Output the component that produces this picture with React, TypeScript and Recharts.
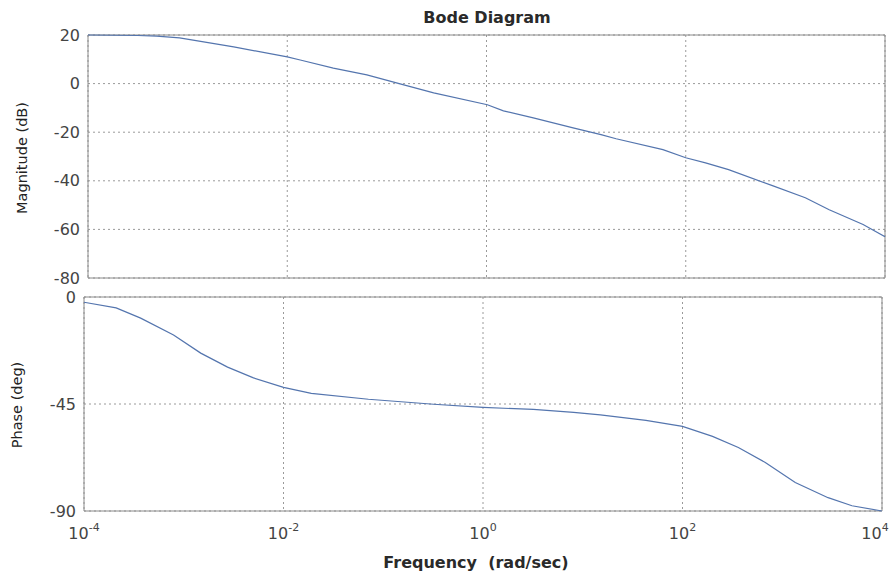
import { LineChart, Line, XAxis, YAxis, CartesianGrid, ReferenceArea } from 'recharts'

// magnitude curve
const magFreq = [
  1e-4, 3.16e-4, 4.9e-4, 8.3e-4, 2.9e-3, 1e-2, 1.35e-2, 2.9e-2, 6.3e-2, 0.148, 0.295, 1.02,
  1.48, 2.95, 7.4, 14.1, 20, 59, 100, 158, 269, 741, 1585, 2754, 6026, 1e4,
]
const magDb = [
  20, 19.8, 19.5, 18.8, 15.1, 11, 9.7, 6.4, 3.6, -0.5, -3.8, -8.7,
  -11.2, -14.1, -18.2, -21, -22.7, -27.2, -30.5, -32.6, -35.4, -42, -47, -51.9, -58, -63,
]

// phase curve
const phaseFreq = [
  1e-4, 2.1e-4, 3.7e-4, 7.9e-4, 1.48e-3, 2.75e-3, 5e-3, 1e-2, 1.9e-2, 7.1e-2, 0.32, 1,
  3.2, 8.1, 15, 43, 100, 200, 363, 676, 1350, 2880, 5000, 1e4,
]
const phaseDeg = [
  -2.2, -4.6, -8.9, -16, -23.6, -29.5, -34, -38, -40.5, -43, -45.1, -46.4,
  -47.3, -48.5, -49.6, -51.9, -54.4, -58.6, -63.3, -69.6, -78, -84.4, -87.8, -90,
]

const freqTicks = [1e-4, 1e-2, 1, 1e2, 1e4]
const magTicks = [-80, -60, -40, -20, 0, 20]
const phaseTicks = [-90, -45, 0]

const magData = magFreq.map((f, i) => ({ f, v: magDb[i] }))
const phaseData = phaseFreq.map((f, i) => ({ f, v: phaseDeg[i] }))

const FONT = '"DejaVu Sans", sans-serif'
const LINE = '#5475ae'
const FRAME = '#8a8a8a'
const GRID = '#9a9a9a'
const TICK = '#444'

function PowTick(props: any) {
  const { x, y, payload } = props
  const e = Math.round(Math.log10(payload.value))
  return (
    <text x={x} y={y + 20} textAnchor="middle" fill={TICK} fontFamily={FONT} fontSize={16}>
      10
      <tspan dy={-8} fontSize={11}>
        {e}
      </tspan>
    </text>
  )
}

export default function App() {
  return (
    <div style={{ position: 'absolute', left: 0, top: 0, width: 895, height: 575, background: '#fff', fontFamily: FONT }}>
      <div
        style={{
          position: 'absolute', left: 487, top: 8, transform: 'translateX(-50%)',
          fontSize: 16, fontWeight: 'bold', color: '#2a2a2a', whiteSpace: 'nowrap',
        }}
      >
        Bode Diagram
      </div>

      <div style={{ position: 'absolute', left: 0, top: 0 }}>
        <LineChart width={895} height={290} data={magData} margin={{ top: 35, right: 10, bottom: 12, left: 0 }}>
          <CartesianGrid stroke={GRID} strokeDasharray="2 3" />
          <XAxis dataKey="f" type="number" scale="log" domain={[1e-4, 1e4]} ticks={freqTicks} hide allowDataOverflow />
          <YAxis
            type="number"
            domain={[-80, 20]}
            ticks={magTicks}
            width={88}
            axisLine={false}
            tickLine={false}
            tick={{ fill: TICK, fontSize: 16, fontFamily: FONT }}
          />
          <ReferenceArea x1={1e-4} x2={1e4} y1={-80} y2={20} fill="none" stroke={FRAME} strokeWidth={1} />
          <Line dataKey="v" stroke={LINE} strokeWidth={1.2} dot={false} type="linear" isAnimationActive={false} />
        </LineChart>
      </div>

      <div style={{ position: 'absolute', left: 0, top: 285 }}>
        <LineChart width={895} height={290} data={phaseData} margin={{ top: 12, right: 13, bottom: 34, left: 0 }}>
          <CartesianGrid stroke={GRID} strokeDasharray="2 3" />
          <XAxis
            dataKey="f"
            type="number"
            scale="log"
            domain={[1e-4, 1e4]}
            ticks={freqTicks}
            height={30}
            axisLine={false}
            tickLine={false}
            tick={<PowTick />}
            allowDataOverflow
          />
          <YAxis
            type="number"
            domain={[-90, 0]}
            ticks={phaseTicks}
            width={84}
            axisLine={false}
            tickLine={false}
            tick={{ fill: TICK, fontSize: 16, fontFamily: FONT }}
          />
          <ReferenceArea x1={1e-4} x2={1e4} y1={-90} y2={0} fill="none" stroke={FRAME} strokeWidth={1} />
          <Line dataKey="v" stroke={LINE} strokeWidth={1.2} dot={false} type="linear" isAnimationActive={false} />
        </LineChart>
      </div>

      <div
        style={{
          position: 'absolute', left: 22, top: 158, transform: 'translate(-50%, -50%) rotate(-90deg)',
          fontSize: 14.5, color: '#222', whiteSpace: 'nowrap',
        }}
      >
        Magnitude (dB)
      </div>
      <div
        style={{
          position: 'absolute', left: 17, top: 405, transform: 'translate(-50%, -50%) rotate(-90deg)',
          fontSize: 14.5, color: '#222', whiteSpace: 'nowrap',
        }}
      >
        Phase (deg)
      </div>
      <div
        style={{
          position: 'absolute', left: 476, top: 562, transform: 'translate(-50%, -50%)',
          fontSize: 16, fontWeight: 'bold', color: '#2a2a2a', whiteSpace: 'pre',
        }}
      >
        Frequency  (rad/sec)
      </div>
    </div>
  )
}
